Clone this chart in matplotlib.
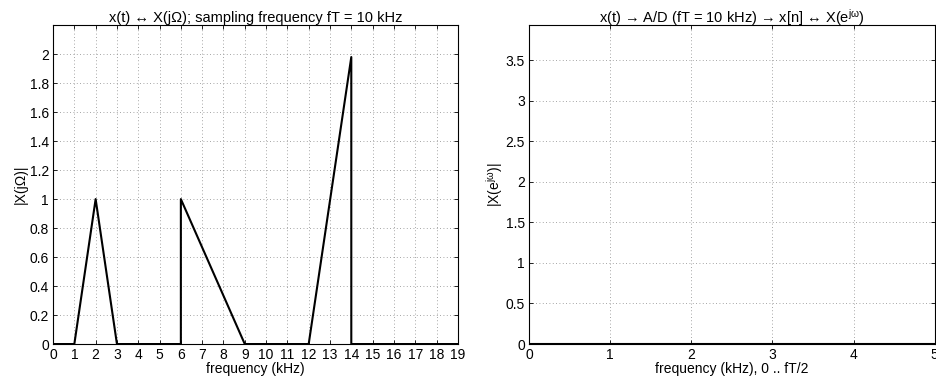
import numpy as np
import matplotlib
matplotlib.use("Agg")
import matplotlib.pyplot as plt

# spectrum of x(t): piecewise linear segments
freq_khz = [0, 1, 2, 3, 6, 6, 9, 12, 14, 14, 19]
magnitude = [0, 0, 1, 0, 0, 1, 0, 0, 1.98, 0, 0]
left_xticks = list(range(0, 20))
left_yticks = [0, 0.2, 0.4, 0.6, 0.8, 1, 1.2, 1.4, 1.6, 1.8, 2]
right_xticks = [0, 1, 2, 3, 4, 5]
right_yticks = [0, 0.5, 1, 1.5, 2, 2.5, 3, 3.5]

plt.rcParams['font.family'] = ['Liberation Sans', 'DejaVu Sans']
plt.rcParams['font.size'] = 10
plt.rcParams['mathtext.fontset'] = 'custom'
plt.rcParams['mathtext.rm'] = 'Liberation Sans'
plt.rcParams['mathtext.it'] = 'Liberation Sans'


def style(ax):
    ax.tick_params(direction='in', length=3, width=0.6, top=True, right=True, pad=3)
    ax.grid(True, linestyle=(0, (1, 3)), color='#888888', linewidth=0.6)
    for s in ax.spines.values():
        s.set_linewidth(0.8)


fig = plt.figure(figsize=(9.37, 3.81), dpi=100)
ax1 = fig.add_axes([0.0566, 0.097, 0.432, 0.837])
ax2 = fig.add_axes([0.5646, 0.097, 0.433, 0.837])

ax1.plot(freq_khz, magnitude, color='black', linewidth=1.5)
ax1.set_xlim(0, 19)
ax1.set_ylim(0, 2.2)
ax1.set_xticks(left_xticks)
ax1.set_yticks(left_yticks)
ax1.set_yticklabels([f"{v:g}" for v in left_yticks])
ax1.set_xlabel("frequency (kHz)", labelpad=0)
ax1.set_ylabel("|X(j\u03a9)|", labelpad=1)
ax1.set_title("x(t) \u2194 X(j\u03a9); sampling frequency fT = 10 kHz",
              pad=2, fontsize=10.5)
style(ax1)

ax2.plot([0, 5], [0, 0], color='black', linewidth=1.5)
ax2.set_xlim(0, 5)
ax2.set_ylim(0, 3.93)
ax2.set_xticks(right_xticks)
ax2.set_yticks(right_yticks)
ax2.set_yticklabels([f"{v:g}" for v in right_yticks])
ax2.set_xlabel("frequency (kHz), 0 .. fT/2", labelpad=0)
ax2.set_ylabel("|X(e$^{j\u03c9}$)|", labelpad=0)
ax2.set_title("x(t) \u2192 A/D (fT = 10 kHz) \u2192 x[n] \u2194 X(e$^{j\u03c9}$)",
              pad=2, fontsize=10.5)
style(ax2)

fig.savefig("out.png", dpi=100)
